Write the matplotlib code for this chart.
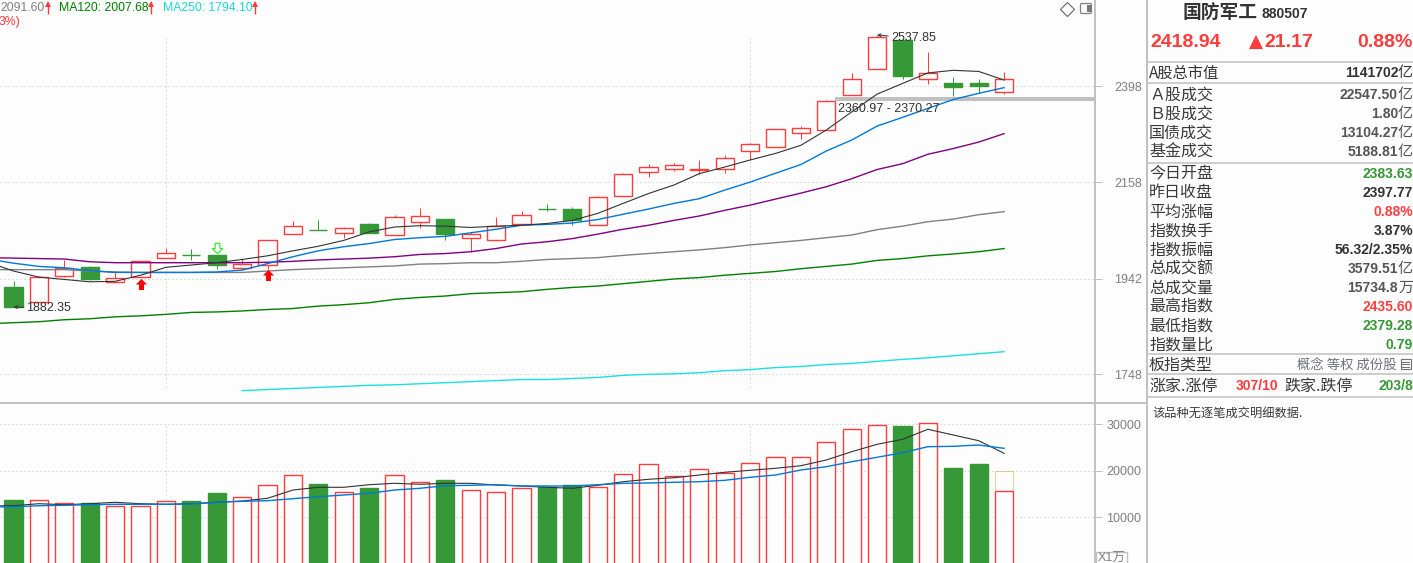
import numpy as np
import matplotlib
matplotlib.use('Agg')
import matplotlib.pyplot as plt
from matplotlib.path import Path
from matplotlib.ticker import NullLocator, FixedLocator, FixedFormatter
from matplotlib.patches import Rectangle, FancyBboxPatch

plt.rcParams['font.family'] = ['Liberation Sans', 'Noto Sans CJK SC', 'DejaVu Sans']

# ---------- data ----------
opens = [1923,1892,1948,1966,1935,1945,1986,1993,1992,1965,1972,2039,2049,2042,2061,2037,2067,2073,2031,2025,
         2062,2097,2096,2060,2127,2184,2191,2187,2191,2235,2245,2279,2285,2376,2445,2523,2418,2407,2407,2383.63]
closes = [1882.35,1946,1965,1941,1944,1979,1998,1993,1971,1974,2025,2058,2049,2052,2041,2077,2079,2039,2040,2057,
          2083,2097,2071,2125,2179,2194,2199,2191,2218,2252,2288,2292,2361,2417,2531,2425,2435,2396,2399,2418.94]
highs = [1936,1947,1981,1968,1955,1979,2008,2005,1992,1983,2025,2068,2070,2055,2064,2082,2098,2073,2044,2077,
         2091,2107,2100,2126,2180,2202,2204,2212,2224,2253,2288,2296,2362,2433,2537.85,2523,2491,2423,2417,2435.60]
lows = [1882.35,1892,1945,1939,1934,1945,1986,1981,1963,1961,1963,2039,2049,2031,2041,2037,2053,2026,2000,2025,
        2061,2091,2059,2059,2127,2171,2186,2179,2181,2212,2245,2264,2285,2376,2445,2417,2404,2373,2380,2379.28]
ma5 = [1977,1958,1945,1940,1935,1936,1949,1966,1971,1976,1983,1991,2002,2012,2025,2044,2055,2058,2057,2054,
       2057,2059,2063,2070,2086,2109,2132,2152,2179,2195,2212,2228,2248,2286,2332,2378,2406,2434,2441,2438,2415]
ma10 = [1984,1975,1968,1965,1959,1955,1955,1955,1955,1956,1960,1974,1989,2002,2011,2018,2027,2031,2034,2042,
        2050,2059,2061,2064,2072,2084,2096,2109,2120,2140,2159,2180,2201,2234,2261,2296,2318,2341,2364,2380,2395]
ma20 = [1987,1986,1985,1984,1978,1976,1976,1976,1976,1976,1976,1977,1979,1982,1984,1986,1989,1994,1996,2000,
        2007,2017,2022,2029,2039,2050,2059,2070,2080,2093,2105,2119,2133,2148,2167,2189,2203,2226,2240,2256,2277]
ma60 = [1961,1961,1961,1961,1958,1956,1955,1955,1955,1955,1955,1958,1961,1963,1965,1967,1969,1973,1974,1976,
        1976,1979,1983,1985,1987,1992,1996,2000,2004,2009,2015,2020,2025,2031,2037,2049,2057,2067,2073,2083,2090]
ma120 = [1848,1850,1852,1856,1858,1862,1864,1867,1871,1872,1874,1877,1879,1884,1887,1891,1898,1902,1905,1910,
         1912,1914,1919,1923,1926,1931,1936,1941,1944,1949,1953,1957,1963,1968,1973,1981,1985,1991,1995,2000,2007]
ma250 = [1717,1719,1721,1723,1725,1727,1728,1730,1732,1734,1736,1738,1738,1740,1742,1746,1748,1749,1751,1755,
         1757,1761,1763,1767,1769,1773,1777,1780,1784,1788,1792]
volumes = [13721,13656,13011,13011,12366,12366,13441,13506,15226,14301,16882,19033,17161,15377,16301,19033,17527,18022,15807,15377,
           16236,16516,16947,16452,19248,21398,18817,20323,19463,21613,22903,22903,26129,28925,29785,29634,30215,20602,21463,15735]
volume_forecast = 19957
vol_ma5 = [12430,12494,12924,12709,12924,13225,12924,12795,12924,13225,13505,14086,15870,16451,16451,17010,17311,17096,17311,17311,
           16946,16731,16451,16236,16881,17655,18172,18516,19096,19677,20107,20537,21096,22322,24107,25698,26774,28924,27698,26473,23763]
vol_ma10 = [12215,12279,12494,12580,12709,12795,12795,12795,12860,13225,13440,13569,14000,14430,14795,15161,15870,16236,16795,16881,
            17010,16731,16731,16731,17010,17311,17376,17526,17655,17956,18602,19096,20172,20881,21956,22903,23892,25182,25268,25548,24838]
price_ticks = [2398, 2158, 1942, 1748]
vol_ticks = [30000, 20000, 10000]
buy_days, buy_levels = [5, 10], [1931, 1949.5]
sell_days, sell_levels = [8], [2009]
band_low, band_high = 2360.97, 2370.27
month_days = [6, 29]

side_rows = [('今日开盘', '2383.63', '#339933', 173), ('昨日收盘', '2397.77', '#333333', 192),
             ('平均涨幅', '0.88%', '#ff4040', 211), ('指数换手', '3.87%', '#333333', 230),
             ('指数振幅', '56.32/2.35%', '#333333', 249), ('最高指数', '2435.60', '#ff4040', 306),
             ('最低指数', '2379.28', '#339933', 325), ('指数量比', '0.79', '#339933', 344)]
unit_rows = [('Ａ股成交', '22547.50', '亿', 94), ('Ｂ股成交', '1.80', '亿', 113), ('国债成交', '13104.27', '亿', 132),
             ('基金成交', '5188.81', '亿', 151), ('总成交额', '3579.51', '亿', 268), ('总成交量', '15734.8', '万', 287)]

# ---------- palette ----------
BG = '#fdfdfd'; RED = '#ff3c3c'; GREEN = '#379837'; AXIS = '#c0c0c0'; TXT = '#333333'; TICK = '#808080'
CJK = ['Noto Sans CJK SC', 'DejaVu Sans']
PX = 0.72

W, H = 1413, 563
fig = plt.figure(figsize=(W/100, H/100), dpi=100, facecolor=BG)

def px_axes(x0, x1, y0, y1):
    return fig.add_axes([x0/W, 1-y1/H, (x1-x0)/W, (y1-y0)/H], facecolor=BG)

ax = px_axes(0, 1095, 0, 403)
vx = px_axes(0, 1095, 404, 563)

days = np.arange(len(opens))
line_days = np.arange(-1, len(opens))
up = np.array(closes) > np.array(opens)
spacing, first = 25.4, 13.5
xlim = (-first/spacing, (1095-first)/spacing)

# price scale: equal spacing of the four tick values, 96 px apart
kp = np.log(price_ticks[0]/price_ticks[1])/96
ax.set_yscale('log')
ax.set_ylim(price_ticks[0]*np.exp(-(403-86.5)*kp), price_ticks[0]*np.exp(86.5*kp))
vscale = 10000/46.5
vx.set_ylim(vol_ticks[0]-(563-424.3)*vscale, vol_ticks[0]-(404-424.3)*vscale)

for a, ticks in ((ax, price_ticks), (vx, vol_ticks)):
    a.set_xlim(*xlim)
    a.yaxis.tick_right()
    a.yaxis.set_major_locator(FixedLocator(ticks))
    a.yaxis.set_major_formatter(FixedFormatter([str(t) for t in ticks]))
    a.yaxis.set_minor_locator(NullLocator())
    a.xaxis.set_major_locator(NullLocator())
    a.xaxis.set_minor_locator(NullLocator())
    for s in ('left', 'top', 'bottom'):
        a.spines[s].set_visible(False)
    a.spines['right'].set_color(AXIS)
    a.spines['right'].set_linewidth(1.4)
    a.tick_params(axis='y', which='major', length=5, width=PX, color=AXIS, labelcolor=TICK, labelsize=9)
    a.grid(axis='y', color=AXIS, lw=PX, ls=(0, (1, 3)))
    a.set_axisbelow(True)
ax.tick_params(axis='y', pad=9)
vx.tick_params(axis='y', pad=3)

dot = dict(color=AXIS, lw=PX, ls=(0, (1, 3)), zorder=0.5)
for d in month_days:
    ax.axvline(d, ymin=1-387/403, ymax=1-35/403, **dot)
    vx.axvline(d, ymin=0, ymax=1-19/159, **dot)

# candles
wick_colors = [RED if u else GREEN for u in up]
ax.vlines(days, lows, highs, colors=wick_colors, lw=PX, zorder=2)
bottoms = np.minimum(opens, closes)
heights = np.abs(np.array(closes)-np.array(opens))
body_face = [BG if u else GREEN for u in up]
ax.bar(days, heights, bottom=bottoms, width=0.71, color=body_face, edgecolor=wick_colors, linewidth=1.0, zorder=3)

# moving averages
for vals, col, lw in ((ma120, '#008000', 1.0), (ma60, '#808080', 1.0), (ma20, '#800080', 1.0), (ma10, '#0078d7', 1.0), (ma5, '#333333', 0.8)):
    ax.plot(line_days, vals, color=col, lw=lw, zorder=4)
ax.plot(np.arange(len(opens)-len(ma250), len(opens)), ma250, color='#1de0e0', lw=1.0, zorder=4)

# signal arrows
arrow_up = Path([(0, 1), (1, 0), (.45, 0), (.45, -1), (-.45, -1), (-.45, 0), (-1, 0), (0, 1)], closed=True)
arrow_dn = Path([(x, -y) for x, y in arrow_up.vertices], closed=True)
ax.plot(buy_days, buy_levels, ls='none', marker=arrow_up, ms=8, mfc='#ff0000', mec='#ff0000', mew=0, zorder=5)
ax.plot(sell_days, sell_levels, ls='none', marker=arrow_dn, ms=7.5, mfc=BG, mec='#22ee22', mew=0.8, zorder=5)

# cost band
ax.fill_between([(835-first)/spacing, xlim[1]], band_low, band_high, color=AXIS, lw=0, zorder=1)
ax.annotate(f'{band_low} - {band_high}', xy=((838-first)/spacing, band_low), xytext=(0, -6), textcoords='offset points',
            ha='left', va='center', fontsize=9, color=TXT, zorder=6)

# extreme labels
arr = dict(arrowstyle='->', lw=PX, color=TXT, shrinkA=0, shrinkB=0, mutation_scale=5)
ax.annotate('1882.35', xy=(0, min(lows)), xytext=(9.4, -1), textcoords='offset points', ha='left', va='center',
            fontsize=9, color=TXT, arrowprops=arr, zorder=6)
ax.annotate('2537.85', xy=(int(np.argmax(highs)), max(highs)), xytext=(10, -2.5), textcoords='offset points', ha='left',
            va='center', fontsize=9, color=TXT, arrowprops=arr, zorder=6)

# volume
vx.bar(days, volumes, width=0.71, bottom=0, color=body_face, edgecolor=wick_colors, linewidth=1.0, zorder=3)
last = days[-1]
vx.plot([last-.355, last-.355, last+.355, last+.355], [volumes[-1], volume_forecast, volume_forecast, volumes[-1]],
        color='#b5b535', lw=PX, ls=(0, (1, 1)), zorder=3)
vx.plot(line_days, vol_ma5, color='#333333', lw=0.8, zorder=4)
vx.plot(line_days, vol_ma10, color='#0078d7', lw=1.0, zorder=4)

# ---------- overlay: header, side panel ----------
ov = fig.add_axes([0, 0, 1, 1], facecolor='none')
ov.set_xlim(0, W); ov.set_ylim(H, 0); ov.axis('off')

def T(x, y, s, **kw):
    kw.setdefault('va', 'center')
    ov.text(x, y+1, s, **kw)

def hline(y, x0=1146, x1=W, lw=1.1, c=AXIS):
    ov.plot([x0, x1], [y, y], color=c, lw=lw, solid_capstyle='butt')

ov.plot([1146.5, 1146.5], [0, H], color=AXIS, lw=1.4)
hline(403.3, 0, 1147, lw=1.4)
for y in (61.5, 83, 162.5, 354.3, 374.3, 397.3):
    hline(y)

def up_arrow(x):
    ov.plot([x, x], [2, 14], color=RED, lw=1.0, solid_capstyle='butt')
    ov.plot([x], [3.5], marker='^', ms=4, color=RED, mew=0)

hs = 8.8
T(0, 7, '2091.60', color=TICK, fontsize=hs)
up_arrow(48)
T(59, 7, 'MA120: 2007.68', color='#008000', fontsize=hs)
up_arrow(151)
T(163, 7, 'MA250: 1794.10', color='#1dd8d8', fontsize=hs)
up_arrow(254.5)
T(-1, 21.5, '3%)', color=RED, fontsize=hs)

# top-right icons
ov.plot([1067], [8.7], marker='D', ms=7.2, mfc=BG, mec='#666666', mew=0.8)
ov.add_patch(FancyBboxPatch((1081, 4), 10, 9, boxstyle='round,pad=0.5,rounding_size=1.5', fc=BG, ec='#808080', lw=0.9))
ov.add_patch(Rectangle((1086.5, 5), 4, 7, fc='#777777', ec='none'))

# X1万 box
ov.add_patch(Rectangle((1096, 552), 31, 12, fc=BG, ec=AXIS, lw=1.0))
T(1111.5, 557.5, 'X1万', color=TICK, fontsize=9, ha='center', family=['Liberation Sans', 'Noto Sans CJK SC'])

# title
T(1183, 11.5, '国防军工', family=CJK, fontweight='bold', fontsize=13.5, color=TXT)
T(1262, 13.5, '880507', fontweight='bold', fontsize=10, color=TXT)
T(1150, 41.5, '2418.94', fontweight='bold', fontsize=14, color=RED)
ov.plot([1255.5], [42], marker='^', ms=10, color=RED, mew=0)
T(1264, 41.5, '21.17', fontweight='bold', fontsize=14, color=RED)
T(1412.5, 41.5, '0.88%', fontweight='bold', fontsize=14, color=RED, ha='right')

LS = 11.5; VS = 10; LC = '#3a3a3a'
T(1149, 72, 'A股总市值', family=CJK, fontsize=11, color=TXT)
T(1398, 72, '1141702', fontweight='bold', fontsize=VS, color=TXT, ha='right')
T(1413, 72, '亿', family=CJK, fontsize=10.8, color=LC, ha='right')
for lab, val, col, y in side_rows:
    T(1149, y, lab, family=CJK, fontsize=LS, color=LC)
    T(1413, y, val, fontweight='bold', fontsize=VS, color=col, ha='right')
for lab, val, unit, y in unit_rows:
    T(1149, y, lab, family=CJK, fontsize=LS, color=LC)
    T(1398, y, val, fontweight='bold', fontsize=VS, color='#555555', ha='right')
    T(1413, y, unit, family=CJK, fontsize=10.8, color='#555555', ha='right')

T(1149, 364, '板指类型', family=CJK, fontsize=LS, color=LC)
T(1397, 364, '概念 等权 成份股', family=CJK, fontsize=9.6, color='#707080', ha='right')
ov.add_patch(Rectangle((1400.5, 359), 10, 10, fc=BG, ec='#707070', lw=0.8))
for y in (361.5, 364, 366.5):
    ov.plot([1402, 1409], [y, y], color='#707070', lw=0.7)

T(1149, 385, '涨家.涨停', family=CJK, fontsize=LS, color=LC)
T(1236, 385, '307/10', fontweight='bold', fontsize=VS, color=RED)
T(1284, 385, '跌家.跌停', family=CJK, fontsize=LS, color=LC)
T(1413, 385, '203/8', fontweight='bold', fontsize=VS, color=GREEN, ha='right')
T(1152, 412, '该品种无逐笔成交明细数据.', family=CJK, fontsize=8.8, color=LC)

fig.savefig('out.png', dpi=100, facecolor=BG)
